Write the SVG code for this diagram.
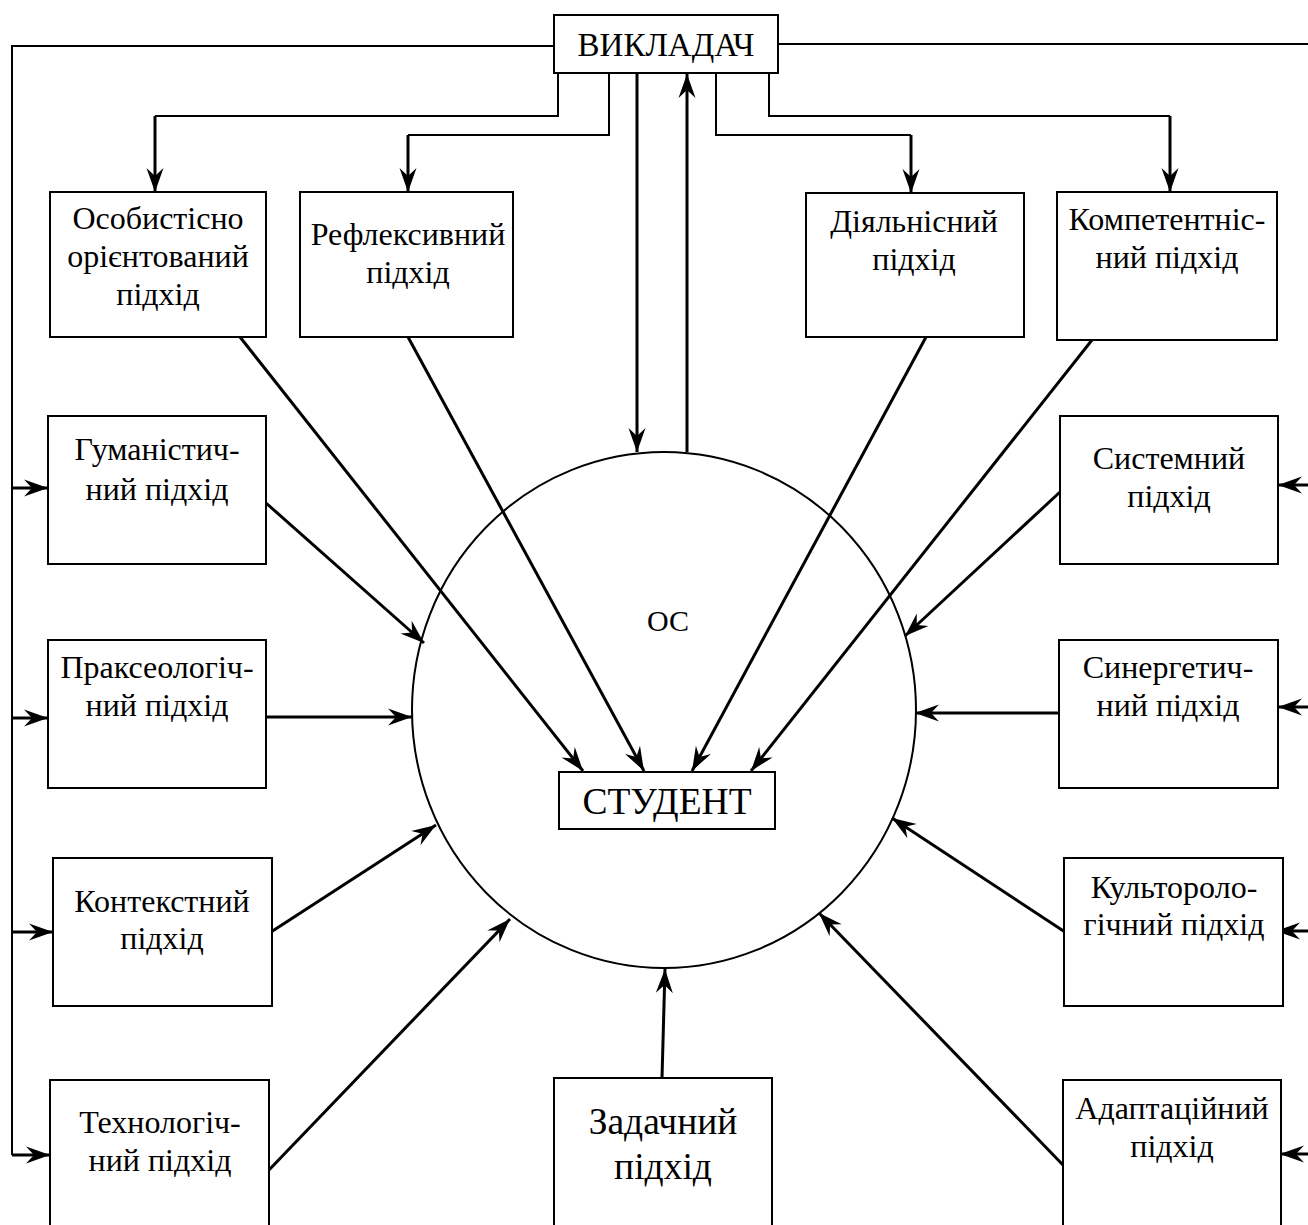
<svg xmlns="http://www.w3.org/2000/svg" width="1308" height="1225" viewBox="0 0 1308 1225">
<style>
.box{fill:#fff;stroke:#000;stroke-width:2}
text{font-family:'Liberation Serif','Times New Roman',serif;font-size:32px;fill:#000;text-anchor:middle}
.big{font-size:37.5px}
.thin{fill:none;stroke:#000;stroke-width:2}
.arr{fill:none;stroke:#000;stroke-width:3;marker-end:url(#ah)}
.circ{fill:none;stroke:#000;stroke-width:2}
</style>
<defs>
<marker id="ah" viewBox="-26 -10 28 20" refX="0" refY="0" markerWidth="28" markerHeight="20" markerUnits="userSpaceOnUse" orient="auto">
<path d="M0,0 L-24,-8.5 L-16,0 L-24,8.5 Z" fill="#000"/>
</marker>
</defs>
<ellipse id="os" class="circ" cx="664" cy="710" rx="252" ry="258"/>
<text x="668" y="631" style="font-size:30px">ОС</text>
<g id="connectors">
<polyline class="thin" points="554,46 12,46 12,1155"/>
<polyline class="thin" points="778,44 1308,44"/>
<polyline class="thin" points="558,73 558,116 155,116"/>
<polyline class="thin" points="609,73 609,135 408,135"/>
<polyline class="thin" points="716,73 716,135 911,135"/>
<polyline class="thin" points="769,73 769,116 1170,116"/>
<line class="arr" x1="155" y1="116" x2="155" y2="192"/>
<line class="arr" x1="408" y1="135" x2="408" y2="192"/>
<line class="arr" x1="911" y1="135" x2="911" y2="193"/>
<line class="arr" x1="1170" y1="116" x2="1170" y2="192"/>
<line class="arr" x1="637" y1="73" x2="637" y2="452"/>
<line class="arr" x1="687" y1="452" x2="687" y2="74"/>
<line class="arr" x1="12" y1="488" x2="48" y2="488"/>
<line class="arr" x1="12" y1="718" x2="48" y2="718"/>
<line class="arr" x1="12" y1="932" x2="53" y2="932"/>
<line class="arr" x1="12" y1="1155" x2="50" y2="1155"/>
<line class="arr" x1="1308" y1="485" x2="1278" y2="485"/>
<line class="arr" x1="1308" y1="707" x2="1278" y2="707"/>
<line class="arr" x1="1308" y1="931" x2="1276" y2="931"/>
<line class="arr" x1="1308" y1="1154" x2="1280" y2="1154"/>
<line class="arr" x1="240" y1="337" x2="583" y2="771"/>
<line class="arr" x1="408" y1="337" x2="644" y2="771"/>
<line class="arr" x1="926" y1="337" x2="692" y2="771"/>
<line class="arr" x1="1092" y1="340" x2="751" y2="771"/>
<line class="arr" x1="266" y1="503" x2="424" y2="643"/>
<line class="arr" x1="266" y1="717" x2="412" y2="717"/>
<line class="arr" x1="271" y1="932" x2="436" y2="825"/>
<line class="arr" x1="268" y1="1171" x2="510" y2="919"/>
<line class="arr" x1="662" y1="1078" x2="665" y2="969"/>
<line class="arr" x1="1060" y1="492" x2="905" y2="636"/>
<line class="arr" x1="1059" y1="713" x2="915" y2="713"/>
<line class="arr" x1="1065" y1="932" x2="892" y2="818"/>
<line class="arr" x1="1063" y1="1165" x2="819" y2="913"/>
</g>
<g id="vykladach"><rect class="box" x="554" y="15" width="224" height="58"/><text x="666" y="56" style="font-size:33px">ВИКЛАДАЧ</text></g>
<g id="student"><rect class="box" x="559" y="772" width="216" height="57"/><text class="big" x="667" y="814">СТУДЕНТ</text></g>
<g id="osobystisno"><rect class="box" x="50" y="192" width="216" height="145"/><text x="158" y="229">Особистісно</text><text x="158" y="267">орієнтований</text><text x="158" y="305">підхід</text></g>
<g id="refleksyvnyi"><rect class="box" x="300" y="192" width="213" height="145"/><text x="408" y="245">Рефлексивний</text><text x="408" y="283">підхід</text></g>
<g id="diialnisnyi"><rect class="box" x="806" y="193" width="218" height="144"/><text x="914" y="232">Діяльнісний</text><text x="914" y="270">підхід</text></g>
<g id="kompetentnisnyi"><rect class="box" x="1057" y="192" width="220" height="148"/><text x="1167" y="230">Компетентніс-</text><text x="1167" y="268">ний підхід</text></g>
<g id="humanistychnyi"><rect class="box" x="48" y="416" width="218" height="148"/><text x="157" y="460">Гуманістич-</text><text x="157" y="500">ний підхід</text></g>
<g id="prakseolohichnyi"><rect class="box" x="48" y="640" width="218" height="148"/><text x="157" y="678">Праксеологіч-</text><text x="157" y="716">ний підхід</text></g>
<g id="kontekstnyi"><rect class="box" x="53" y="858" width="219" height="148"/><text x="162" y="912">Контекстний</text><text x="162" y="949">підхід</text></g>
<g id="tekhnolohichnyi"><rect class="box" x="50" y="1080" width="219" height="150"/><text x="160" y="1133">Технологіч-</text><text x="160" y="1171">ний підхід</text></g>
<g id="systemnyi"><rect class="box" x="1060" y="416" width="218" height="148"/><text x="1169" y="469">Системний</text><text x="1169" y="507">підхід</text></g>
<g id="synerhetychnyi"><rect class="box" x="1059" y="640" width="219" height="148"/><text x="1168" y="678">Синергетич-</text><text x="1168" y="716">ний підхід</text></g>
<g id="kulturolohichnyi"><rect class="box" x="1064" y="858" width="219" height="148"/><text x="1174" y="898">Культороло-</text><text x="1174" y="935">гічний підхід</text></g>
<g id="adaptatsiinyi"><rect class="box" x="1063" y="1080" width="218" height="150"/><text x="1172" y="1119">Адаптаційний</text><text x="1172" y="1157">підхід</text></g>
<g id="zadachnyi"><rect class="box" x="554" y="1078" width="218" height="152"/><text class="big" x="663" y="1134">Задачний</text><text class="big" x="663" y="1179">підхід</text></g>
</svg>
